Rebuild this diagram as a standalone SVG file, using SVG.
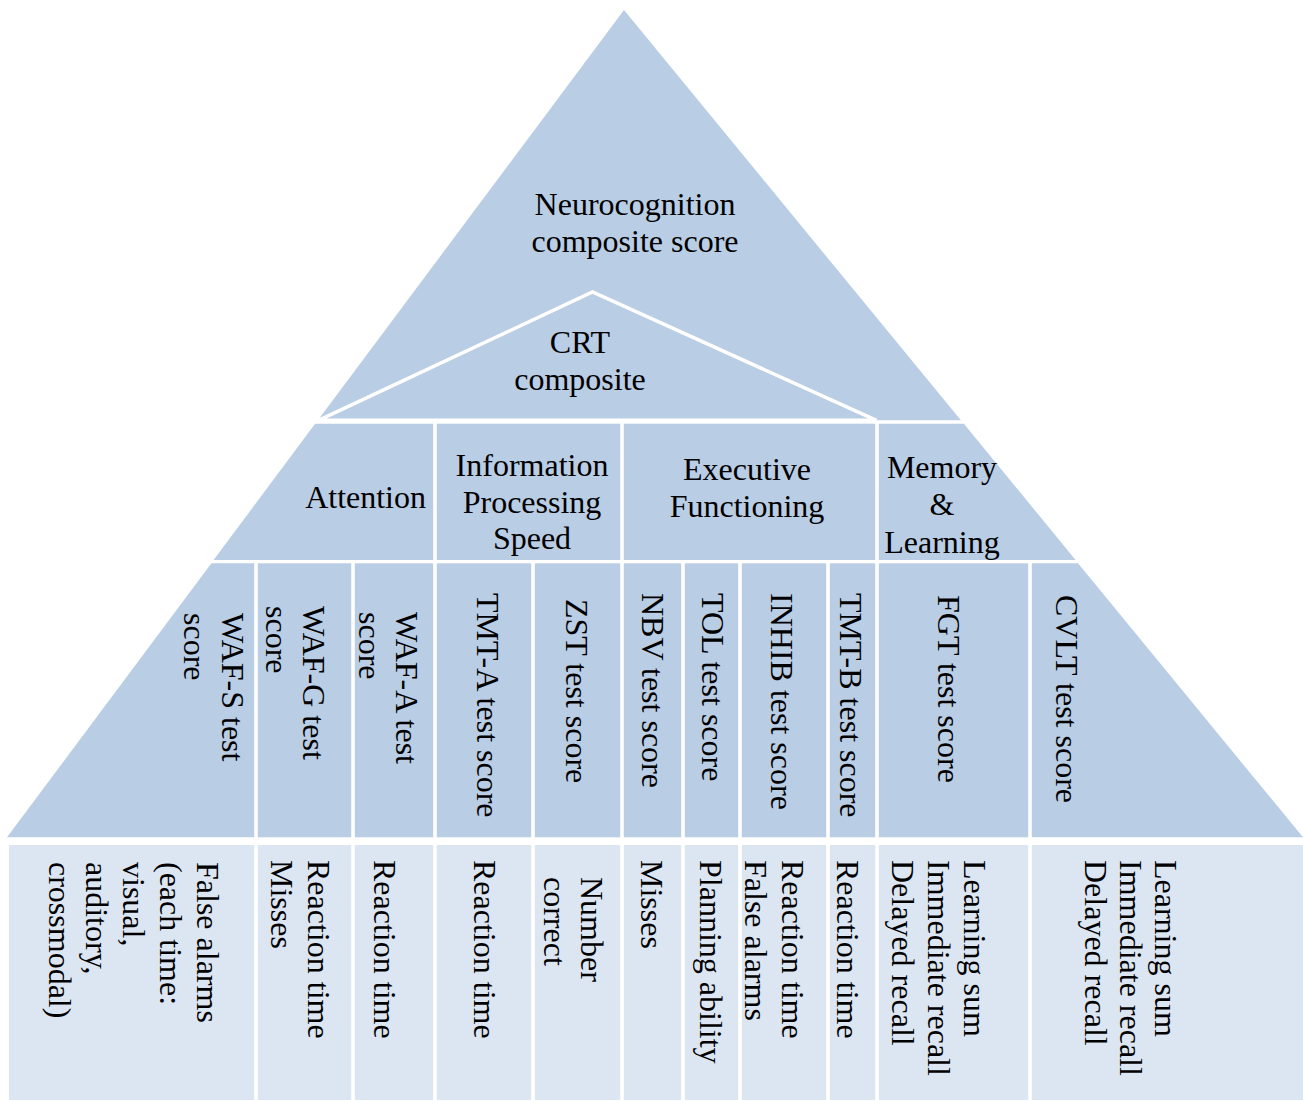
<svg xmlns="http://www.w3.org/2000/svg" width="1303" height="1101" viewBox="0 0 1303 1101">
  <style>
    .cell { fill: #B9CDE5; }
    .leaf { fill: #DCE6F2; }
    .crt { fill: #B9CDE5; stroke: #FFFFFF; stroke-width: 3.5; stroke-linejoin: miter; }
    .lbl { font-family: "Liberation Serif", "Times New Roman", serif; font-size: 32px; fill: #000000; }
    .mid { text-anchor: middle; }
    .end { text-anchor: end; }
  </style>
  <rect x="0" y="0" width="1303" height="1101" fill="#FFFFFF"/>

  <!-- apex: overall composite -->
  <g id="neurocognition">
    <polygon class="cell" points="624,10 960.9,420.3 317.9,420.3"/>
    <text class="lbl mid" x="635" y="215">Neurocognition</text>
    <text class="lbl mid" x="635" y="252">composite score</text>
  </g>

  <g id="crt-composite">
    <polygon class="crt" points="318.5,420.3 592.5,292 876.5,420.3"/>
    <text class="lbl mid" x="580" y="353">CRT</text>
    <text class="lbl mid" x="580" y="390">composite</text>
  </g>

  <!-- domain row -->
  <g id="attention">
    <polygon class="cell" points="315.1,423.7 433.2,423.7 433.2,560 213.6,560"/>
    <text class="lbl end" x="426" y="508">Attention</text>
  </g>
  <g id="processing-speed">
    <rect class="cell" x="436.8" y="423.7" width="183.4" height="136.3"/>
    <text class="lbl mid" x="532" y="476">Information</text>
    <text class="lbl mid" x="532" y="513">Processing</text>
    <text class="lbl mid" x="532" y="549">Speed</text>
  </g>
  <g id="executive-functioning">
    <rect class="cell" x="623.8" y="423.7" width="251.4" height="136.3"/>
    <text class="lbl mid" x="747" y="480">Executive</text>
    <text class="lbl mid" x="747" y="517">Functioning</text>
  </g>
  <g id="memory-learning">
    <polygon class="cell" points="878.8,423.7 963.9,423.7 1075.6,560 878.8,560"/>
    <text class="lbl mid" x="942" y="478">Memory</text>
    <text class="lbl mid" x="942" y="515">&amp;</text>
    <text class="lbl mid" x="942" y="553">Learning</text>
  </g>

  <!-- test score row (vertical labels) -->
  <g id="waf-s">
    <polygon class="cell" points="211.4,563.3 254.2,563.3 254.2,837.3 7,837.3"/>
    <text class="lbl" transform="translate(221.5,613) rotate(90)"><tspan x="0" y="0">WAF-S test</tspan><tspan x="0" dy="37.5">score</tspan></text>
  </g>
  <g id="waf-g">
    <rect class="cell" x="257.8" y="563.3" width="93.4" height="274"/>
    <text class="lbl" transform="translate(303,606) rotate(90)"><tspan x="0" y="0">WAF-G test</tspan><tspan x="0" dy="37.5">score</tspan></text>
  </g>
  <g id="waf-a">
    <rect class="cell" x="354.8" y="563.3" width="78.4" height="274"/>
    <text class="lbl" transform="translate(396,612) rotate(90)"><tspan x="0" y="0">WAF-A test</tspan><tspan x="0" dy="37.5">score</tspan></text>
  </g>
  <g id="tmt-a">
    <rect class="cell" x="436.8" y="563.3" width="94.4" height="274"/>
    <text class="lbl" transform="translate(477,593) rotate(90)">TMT-A test score</text>
  </g>
  <g id="zst">
    <rect class="cell" x="534.8" y="563.3" width="85.4" height="274"/>
    <text class="lbl" transform="translate(566,599) rotate(90)">ZST test score</text>
  </g>
  <g id="nbv">
    <rect class="cell" x="623.8" y="563.3" width="57.4" height="274"/>
    <text class="lbl" transform="translate(642,593) rotate(90)">NBV test score</text>
  </g>
  <g id="tol">
    <rect class="cell" x="684.8" y="563.3" width="53.4" height="274"/>
    <text class="lbl" transform="translate(702,593) rotate(90)">TOL test score</text>
  </g>
  <g id="inhib">
    <rect class="cell" x="741.8" y="563.3" width="84.4" height="274"/>
    <text class="lbl" transform="translate(771,593) rotate(90)">INHIB test score</text>
  </g>
  <g id="tmt-b">
    <rect class="cell" x="829.8" y="563.3" width="45.4" height="274"/>
    <text class="lbl" transform="translate(840,593) rotate(90)">TMT-B test score</text>
  </g>
  <g id="fgt">
    <rect class="cell" x="878.8" y="563.3" width="149.4" height="274"/>
    <text class="lbl" transform="translate(938,595) rotate(90)">FGT test score</text>
  </g>
  <g id="cvlt">
    <polygon class="cell" points="1031.8,563.3 1078,563.3 1303,837.3 1031.8,837.3"/>
    <text class="lbl" transform="translate(1056,595) rotate(90)">CVLT test score</text>
  </g>

  <!-- measures row -->
  <g id="waf-s-measures">
    <rect class="leaf" x="9" y="845" width="245.2" height="255"/>
    <text class="lbl" transform="translate(197,862) rotate(90)"><tspan x="0" y="0">False alarms</tspan><tspan x="0" dy="37">(each time:</tspan><tspan x="0" dy="37">visual,</tspan><tspan x="0" dy="37">auditory,</tspan><tspan x="0" dy="37">crossmodal)</tspan></text>
  </g>
  <g id="waf-g-measures">
    <rect class="leaf" x="257.8" y="845" width="93.4" height="255"/>
    <text class="lbl" transform="translate(308,860) rotate(90)"><tspan x="0" y="0">Reaction time</tspan><tspan x="0" dy="37">Misses</tspan></text>
  </g>
  <g id="waf-a-measures">
    <rect class="leaf" x="354.8" y="845" width="78.4" height="255"/>
    <text class="lbl" transform="translate(374,860) rotate(90)">Reaction time</text>
  </g>
  <g id="tmt-a-measures">
    <rect class="leaf" x="436.8" y="845" width="94.4" height="255"/>
    <text class="lbl" transform="translate(474,860) rotate(90)">Reaction time</text>
  </g>
  <g id="zst-measures">
    <rect class="leaf" x="534.8" y="845" width="85.4" height="255"/>
    <text class="lbl" transform="translate(581,877) rotate(90)"><tspan x="0" y="0">Number</tspan><tspan x="0" dy="37">correct</tspan></text>
  </g>
  <g id="nbv-measures">
    <rect class="leaf" x="623.8" y="845" width="57.4" height="255"/>
    <text class="lbl" transform="translate(641,860) rotate(90)">Misses</text>
  </g>
  <g id="tol-measures">
    <rect class="leaf" x="684.8" y="845" width="53.4" height="255"/>
    <text class="lbl" transform="translate(700,860) rotate(90)">Planning ability</text>
  </g>
  <g id="inhib-measures">
    <rect class="leaf" x="741.8" y="845" width="84.4" height="255"/>
    <text class="lbl" transform="translate(782,860) rotate(90)"><tspan x="0" y="0">Reaction time</tspan><tspan x="0" dy="37">False alarms</tspan></text>
  </g>
  <g id="tmt-b-measures">
    <rect class="leaf" x="829.8" y="845" width="45.4" height="255"/>
    <text class="lbl" transform="translate(837,860) rotate(90)">Reaction time</text>
  </g>
  <g id="fgt-measures">
    <rect class="leaf" x="878.8" y="845" width="149.4" height="255"/>
    <text class="lbl" transform="translate(964,860) rotate(90)"><tspan x="0" y="0">Learning sum</tspan><tspan x="0" dy="36">Immediate recall</tspan><tspan x="0" dy="36">Delayed recall</tspan></text>
  </g>
  <g id="cvlt-measures">
    <rect class="leaf" x="1031.8" y="845" width="271.2" height="255"/>
    <text class="lbl" transform="translate(1155,860) rotate(90)"><tspan x="0" y="0">Learning sum</tspan><tspan x="0" dy="35">Immediate recall</tspan><tspan x="0" dy="35">Delayed recall</tspan></text>
  </g>

  <!-- no connectors: the pyramid levels are separated by white gaps -->
  <g id="connectors"/>
</svg>
